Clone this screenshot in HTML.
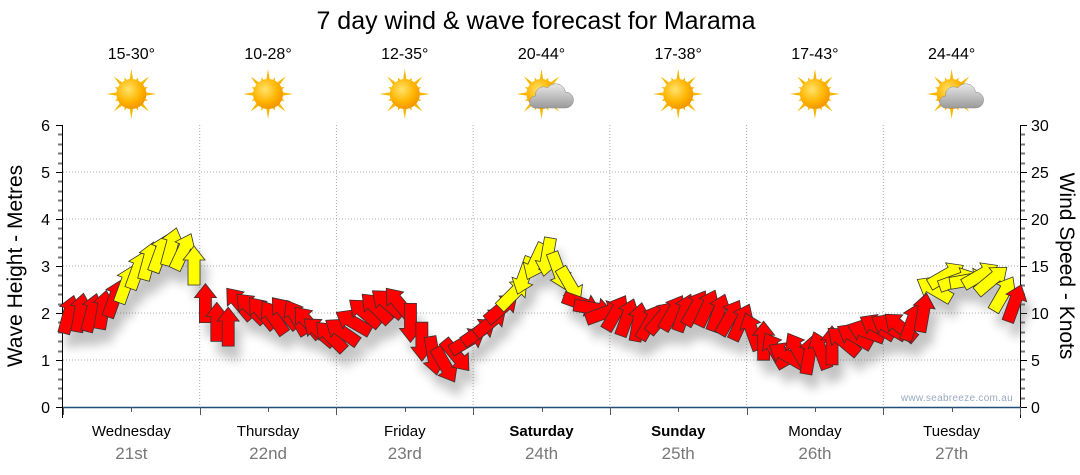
<!DOCTYPE html>
<html><head><meta charset="utf-8"><style>
body{margin:0;background:#fff;width:1080px;height:475px;overflow:hidden;font-family:"Liberation Sans",sans-serif}
svg{display:block}
</style></head><body>
<svg id="chart" width="1080" height="475" viewBox="0 0 1080 475">
<defs>
<radialGradient id="sunG" cx="0.4" cy="0.35" r="0.7"><stop offset="0" stop-color="#ffe36a"/><stop offset="0.6" stop-color="#ffb400"/><stop offset="1" stop-color="#f09000"/></radialGradient>
<linearGradient id="cloudG" x1="0" y1="0" x2="0" y2="1"><stop offset="0" stop-color="#e8e8e8"/><stop offset="1" stop-color="#9a9a9a"/></linearGradient>
<filter id="shadow" x="-50%" y="-50%" width="200%" height="200%"><feGaussianBlur stdDeviation="5"/></filter>
</defs>
<text x="536" y="29" font-size="25" text-anchor="middle" fill="#000">7 day wind &amp; wave forecast for Marama</text>
<g id="grid"></g>
<g id="axes"></g>
<g id="shadows" opacity="0.35" filter="url(#shadow)"></g>
<g id="arrows"></g>
<g id="days"></g>
<text x="1013" y="401" font-size="10" fill="#9aaac0" text-anchor="end" letter-spacing="0.3">www.seabreeze.com.au</text>
<text transform="translate(22,266) rotate(-90)" font-size="21" text-anchor="middle">Wave Height - Metres</text>
<text transform="translate(1060,266) rotate(90)" font-size="21" text-anchor="middle">Wind Speed - Knots</text>
</svg>
<script>
const dayNames=["Wednesday","Thursday","Friday","Saturday","Sunday","Monday","Tuesday"];
const dayDates=["21st","22nd","23rd","24th","25th","26th","27th"];
const temps=["15-30°","10-28°","12-35°","20-44°","17-38°","17-43°","24-44°"];
const cloudy=[0,0,0,1,0,0,1];
const leftTicks=[0,1,2,3,4,5,6];
const rightTicks=[0,5,10,15,20,25,30];
const windSpeed=[
9.8,10,10,10.3,11.5,13,14.5,15.5,16.3,17,16.5,15,
11,9,8.5,11,10.5,10,9.5,10,9.5,9,8,7.5,
8,9,10,10.5,11,11,9,7,5.5,4.5,5.5,7,
8,9,10.5,12,14,15.5,16,14.5,13,11,10.5,10,
10,9.5,9,9,9.5,10,10,10.5,10.5,10,9.5,9,
8,7,6,5.5,6,5.5,6,6.5,7,7.5,8,8.5,
8.5,8.5,9,10,12.5,14,13.5,13.5,14,13.5,12,11];
const windDir=[
15,10,15,10,20,20,20,15,20,15,25,0,
0,0,0,-40,-45,-40,-35,-40,-30,-40,-50,-45,
-55,-60,-50,-45,-50,-40,180,180,170,150,140,60,
55,50,50,45,200,205,190,160,150,110,100,70,
30,20,10,30,40,30,20,30,25,20,30,25,
-20,0,-30,-60,-30,10,-20,0,-50,-60,-70,-60,
-60,-50,20,10,-60,60,70,80,60,50,30,20];
const X0=63,X1=1020,YB=407,YT=125;
const xScale=i=>X0+(i+0.5)*(X1-X0)/windSpeed.length;
const yLeft=v=>YB-(v/6)*(YB-YT);
const yRight=v=>YB-(v/30)*(YB-YT);
const dayW=(X1-X0)/7;
const NS="http://www.w3.org/2000/svg";
function mk(tag,attrs,parent){const e=document.createElementNS(NS,tag);for(const k in attrs)e.setAttribute(k,attrs[k]);if(parent)parent.appendChild(e);return e;}
const grid=document.getElementById('grid'),axes=document.getElementById('axes'),days=document.getElementById('days');
leftTicks.forEach(v=>{if(v>0&&v<6){const l=mk('line',{x1:X0,x2:X1,y1:yLeft(v),y2:yLeft(v),stroke:'#aaa','stroke-dasharray':'1,2'},grid);

}});
for(let d=1;d<7;d++){const l=mk('line',{x1:X0+d*dayW,x2:X0+d*dayW,y1:YT,y2:YB,stroke:'#aaa','stroke-dasharray':'1,2'},grid);

}
mk('line',{x1:62.5,x2:62.5,y1:YT,y2:418,stroke:'#000'},axes);
mk('line',{x1:1020.5,x2:1020.5,y1:YT,y2:418,stroke:'#000'},axes);
mk('line',{x1:X0,x2:X1,y1:YB+0.5,y2:YB+0.5,stroke:'#1f4e79','stroke-width':1.5},axes);
for(let m=0;m<=30;m++){const v=m*0.2;const y=Math.round(yLeft(v))+0.5;const maj=m%5==0;
mk('line',{x1:maj?56:58,x2:62,y1:y,y2:y,stroke:maj?'#000':'#777','stroke-width':maj?1:2},axes);
mk('line',{x1:1021,x2:maj?1027:1025,y1:y,y2:y,stroke:maj?'#000':'#777','stroke-width':maj?1:2},axes);}
leftTicks.forEach(v=>{const t=mk('text',{x:50,y:yLeft(v)+6,'font-size':16,'text-anchor':'end'},axes);t.textContent=v;

});
rightTicks.forEach(v=>{const t=mk('text',{x:1031,y:yRight(v)+6,'font-size':16},axes);t.textContent=v;

});
for(let d=0;d<=14;d++){const x=Math.round(X0+d*dayW/2)+0.5;mk('line',{x1:x,x2:x,y1:YB,y2:YB+(d%2?5:8),stroke:'#555'},axes);}
function sun(g,cx,cy){
 for(let k=0;k<16;k++){const a=k*Math.PI/8,L=k%2?18:25,w=0.18;
 const p=[[cx+Math.cos(a-w)*12,cy+Math.sin(a-w)*12],[cx+Math.cos(a)*L,cy+Math.sin(a)*L],[cx+Math.cos(a+w)*12,cy+Math.sin(a+w)*12]];
 mk('polygon',{points:p.map(q=>q.join(',')).join(' '),fill:'#f5b800'},g);}
 mk('circle',{cx:cx,cy:cy,r:15,fill:'url(#sunG)'},g);}
for(let d=0;d<7;d++){const cx=X0+(d+0.5)*dayW;
 const t=mk('text',{x:cx,y:59,'font-size':16,'text-anchor':'middle'},days);t.textContent=temps[d];
 
 
 const g=mk('g',{},days);
 
 
 sun(g,cx,94);
 if(cloudy[d]){mk('path',{d:`M${cx-6},${108} h30 a8,8 0 0 0 0,-16 a10,10 0 0 0 -18,-4 a8,8 0 0 0 -12,8 a6,6 0 0 0 0,12z`,fill:'url(#cloudG)',stroke:'#888','stroke-width':0.5},g);}
 const n=mk('text',{x:cx,y:436,'font-size':15,'text-anchor':'middle','font-weight':(d==3||d==4)?'bold':'normal'},days);n.textContent=dayNames[d];
 
 
 const dt=mk('text',{x:cx,y:459,'font-size':17,'text-anchor':'middle',fill:'#777'},days);dt.textContent=dayDates[d];
 
 }
const arrowPts="0,-20 11,-6 6,-6 6,19 -6,19 -6,-6 -11,-6";
const sh=document.getElementById('shadows'),ar=document.getElementById('arrows');
windSpeed.forEach((s,i)=>{const x=xScale(i),y=yRight(s);
 mk('polygon',{points:arrowPts,transform:`translate(${x+6},${y+14}) rotate(${windDir[i]})`,fill:'#555'},sh);
 const p=mk('polygon',{points:arrowPts,transform:`translate(${x},${y}) rotate(${windDir[i]})`,fill:s>=12?'#ffff00':'#ff0000',stroke:'#333','stroke-width':0.8},ar);
 
 });
</script>
</body></html>
